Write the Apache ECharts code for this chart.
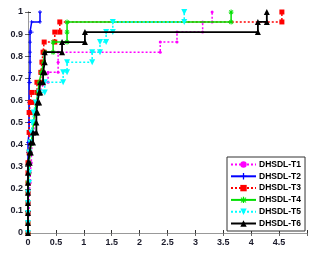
<!DOCTYPE html>
<html>
<head>
<meta charset="utf-8">
<script src="https://cdn.jsdelivr.net/npm/echarts@6/dist/echarts.min.js"></script>
<style>
html,body{margin:0;padding:0;background:#fff;}
#c{width:321px;height:254px;}
</style>
</head>
<body>
<div id="c"></div>
<script>
// ---- data (false positive rate / true positive rate points) ----
const seriesNames = ['DHSDL-T1','DHSDL-T2','DHSDL-T3','DHSDL-T4','DHSDL-T5','DHSDL-T6'];
const xTickLabels = ['0','0.5','1','1.5','2','2.5','3','3.5','4','4.5',''];
const yTickLabels = ['0','0.1','0.2','0.3','0.4','0.5','0.6','0.7','0.8','0.9','1'];

const t1x = [0,0,0.02,0.02,0.02,0.04,0.04,0.06,0.06,0.08,0.1,0.12,0.14,0.2,0.3,0.36,0.36,0.54,0.54,0.54,2.37,2.37,2.67,2.67,3.13,3.13,3.3,3.3];
const t1y = [0,0.045,0.091,0.136,0.182,0.227,0.273,0.318,0.364,0.409,0.455,0.5,0.591,0.636,0.682,0.682,0.727,0.727,0.773,0.818,0.818,0.864,0.864,0.909,0.909,0.955,0.955,1];

const t2x = [0,0,0,0,0,0,0,0,0,0,0.02,0.02,0.02,0.02,0.02,0.02,0.036,0.036,0.036,0.036,0.036,0.036,0.066,0.066,0.215,0.215];
const t2y = [0,0.045,0.091,0.136,0.182,0.227,0.273,0.318,0.364,0.409,0.409,0.455,0.5,0.545,0.591,0.682,0.682,0.727,0.773,0.818,0.864,0.909,0.909,0.955,0.955,1];

const t3x = [0,0,0,0,0,0,0,0,0.02,0.02,0.02,0.04,0.04,0.07,0.07,0.16,0.16,0.23,0.23,0.25,0.25,0.27,0.27,0.29,0.29,0.48,0.48,0.57,0.57,4.55,4.55];
const t3y = [0,0.045,0.091,0.136,0.182,0.227,0.273,0.318,0.364,0.455,0.545,0.545,0.591,0.591,0.636,0.636,0.682,0.682,0.727,0.727,0.773,0.773,0.818,0.818,0.864,0.864,0.909,0.909,0.955,0.955,1];

const t4x = [0,0,0,0,0,0,0.02,0.02,0.04,0.06,0.1,0.12,0.15,0.18,0.2,0.24,0.28,0.3,0.45,0.45,0.7,0.7,0.7,3.64,3.64];
const t4y = [0,0.045,0.091,0.136,0.182,0.227,0.273,0.318,0.364,0.409,0.5,0.545,0.591,0.636,0.682,0.727,0.773,0.818,0.818,0.864,0.864,0.909,0.955,0.955,1];

const t5x = [0,0,0,0,0,0.02,0.02,0.02,0.04,0.06,0.08,0.1,0.14,0.2,0.3,0.3,0.63,0.63,0.7,0.7,1.15,1.15,1.29,1.29,1.4,1.4,1.52,1.52,2.8,2.8];
const t5y = [0,0.045,0.091,0.136,0.182,0.227,0.273,0.364,0.409,0.455,0.5,0.545,0.591,0.636,0.636,0.682,0.682,0.727,0.727,0.773,0.773,0.818,0.818,0.864,0.864,0.909,0.909,0.955,0.955,1];

const t6x = [0,0,0,0,0,0,0,0,0.03,0.03,0.05,0.05,0.09,0.09,0.15,0.15,0.15,0.17,0.17,0.2,0.2,0.22,0.22,0.27,0.27,0.3,0.3,0.3,0.61,0.61,1.02,1.02,4.12,4.12,4.28,4.28];
const t6y = [0,0.045,0.091,0.136,0.182,0.227,0.273,0.318,0.318,0.364,0.364,0.409,0.409,0.455,0.455,0.5,0.545,0.545,0.591,0.591,0.636,0.636,0.682,0.682,0.727,0.727,0.773,0.818,0.818,0.864,0.864,0.909,0.909,0.955,0.955,1];

const xs = [t1x,t2x,t3x,t4x,t5x,t6x];
const ys = [t1y,t2y,t3y,t4y,t5y,t6y];

// ---- styles ----
const colors = ['#ff00ff','#0000ff','#ff0000','#00e000','#00ffff','#000000'];
const dashed = [true,false,true,false,true,false];
const widths = [1.5,1.5,1.5,1.5,1.5,1.8];
const symbols = [
  'circle',
  'path://M4,0H6V4H10V6H6V10H4V6H0V4H4Z',
  'rect',
  'path://M4,0H6V3.5L8.5,1L9.5,2L7,4.5H10V6H7L9.5,8.5L8.5,9.5L6,7V10H4V7L1.5,9.5L0.5,8.5L3,6H0V4.5H3L0.5,2L1.5,1L4,3.5Z',
  'path://M0,0L10,0L5,9Z',
  'triangle'
];
const symSizes = [3,4,5,5,6,6];

const series = seriesNames.map((n,i)=>({
  name:n, type:'line',
  data: xs[i].map((x,j)=>[x, ys[i][j]]),
  symbol: symbols[i], symbolSize: symSizes[i], showAllSymbol:true,
  lineStyle:{color:colors[i], width:widths[i], type: dashed[i]?[2,2]:'solid'},
  itemStyle:{color:colors[i], borderWidth:0},
  emphasis:{disabled:true},
  z: 2+i
}));

const labelFont = {fontSize:9, color:'#1a1a2a', fontFamily:'Liberation Sans, Arial, sans-serif', fontWeight:'bold'};

const chart = echarts.init(document.getElementById('c'), null, {renderer:'canvas'});
chart.setOption({
  animation:false,
  backgroundColor:'#fff',
  grid:{left:28, right:14, top:12, bottom:21, containLabel:false},
  xAxis:[{
    type:'value', min:0, max:5, interval:0.5, position:'bottom',
    axisLine:{lineStyle:{color:'#333', width:1}},
    axisTick:{inside:true, length:3, lineStyle:{color:'#333'}},
    splitLine:{show:false},
    axisLabel:Object.assign({margin:5, formatter:(v)=>xTickLabels[Math.round(v/0.5)]}, labelFont)
  },{
    type:'value', min:0, max:5, interval:0.5, position:'top',
    axisLine:{lineStyle:{color:'#999', width:1}},
    axisTick:{inside:true, length:3, lineStyle:{color:'#666'}},
    splitLine:{show:false}, axisLabel:{show:false}
  }],
  yAxis:[{
    type:'value', min:0, max:1, interval:0.1, position:'left',
    axisLine:{lineStyle:{color:'#333', width:1}},
    axisTick:{inside:true, length:3, lineStyle:{color:'#333'}},
    splitLine:{show:false},
    axisLabel:Object.assign({margin:5, formatter:(v)=>yTickLabels[Math.round(v*10)]}, labelFont)
  },{
    type:'value', min:0, max:1, interval:0.1, position:'right',
    axisLine:{lineStyle:{color:'#999', width:1}},
    axisTick:{inside:true, length:3, lineStyle:{color:'#666'}},
    splitLine:{show:false}, axisLabel:{show:false}
  }],
  legend:{
    data:seriesNames, orient:'vertical', left:227, top:157,
    itemWidth:25, itemHeight:8, itemGap:2.8, padding:[3,4,3,3],
    borderColor:'#333', borderWidth:1, backgroundColor:'#fff',
    textStyle:{fontSize:8.5, color:'#000', fontFamily:'Liberation Sans, Arial, sans-serif', fontWeight:'bold', padding:[0,0,0,-2]},
    selectedMode:false
  },
  series: series
});
</script>
</body>
</html>
